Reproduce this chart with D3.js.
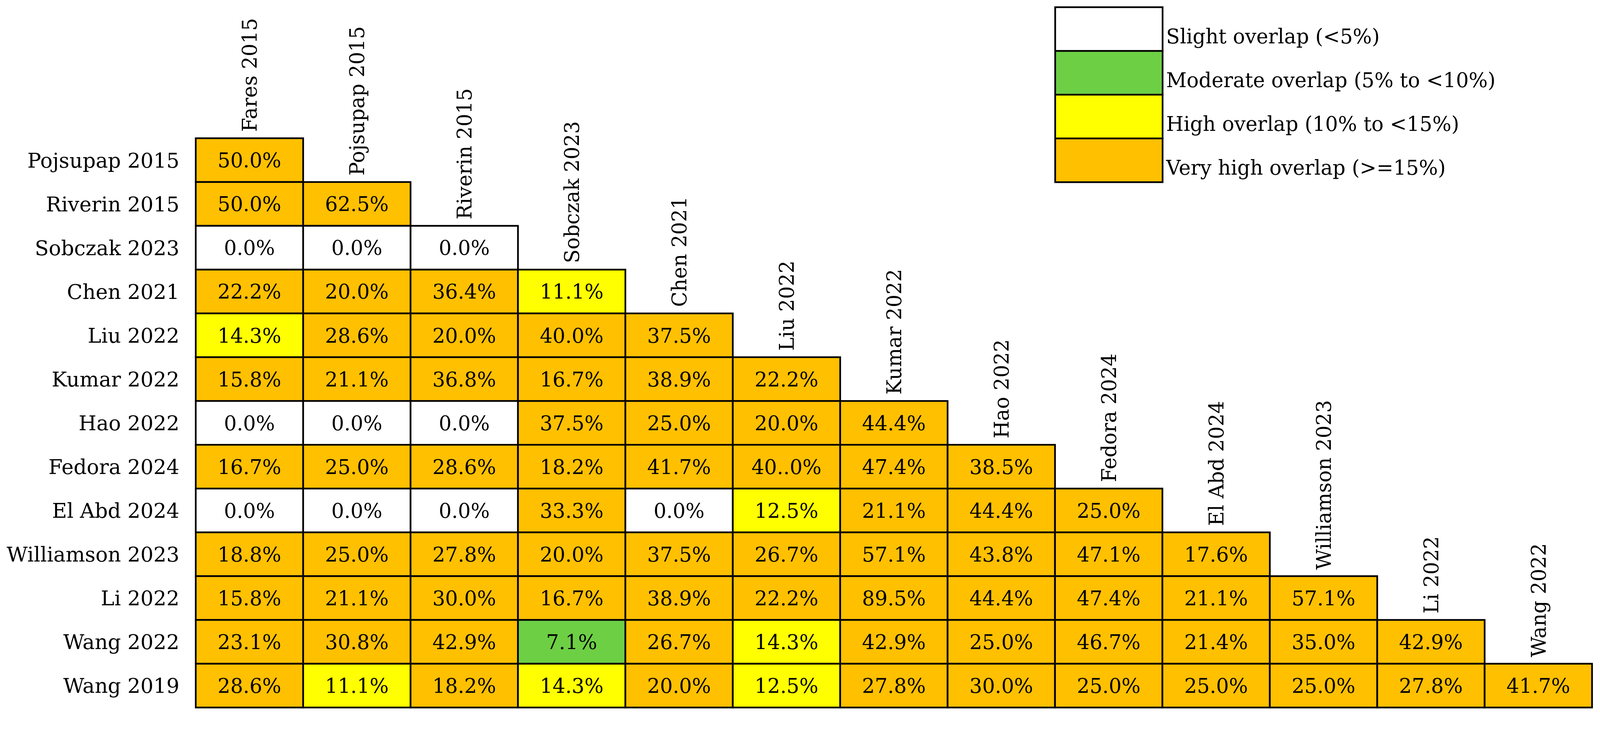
<!DOCTYPE html>
<html>
<head>
<meta charset="utf-8">
<script src="https://cdn.jsdelivr.net/npm/d3@7"></script>
<style>
  html, body { margin: 0; padding: 0; background: #fff; overflow: hidden; }
  #chart { display: block; width: 100vw; height: 100vh; }
  svg text { font-family: "DejaVu Serif", "Liberation Serif", serif; fill: #000; }
</style>
</head>
<body>
<svg id="chart" viewBox="0 0 4226 1886" preserveAspectRatio="xMinYMin meet"></svg>
<script>
// studies along the top (columns) and down the side (rows)
let colStudies = ['Fares 2015', 'Pojsupap 2015', 'Riverin 2015', 'Sobczak 2023', 'Chen 2021', 'Liu 2022',
  'Kumar 2022', 'Hao 2022', 'Fedora 2024', 'El Abd 2024', 'Williamson 2023', 'Li 2022', 'Wang 2022'];
let rowStudies = ['Pojsupap 2015', 'Riverin 2015', 'Sobczak 2023', 'Chen 2021', 'Liu 2022', 'Kumar 2022',
  'Hao 2022', 'Fedora 2024', 'El Abd 2024', 'Williamson 2023', 'Li 2022', 'Wang 2022', 'Wang 2019'];

// overlap (%) per row, lower triangle
let pojsupap2015 = [50.0];
let riverin2015 = [50.0, 62.5];
let sobczak2023 = [0.0, 0.0, 0.0];
let chen2021 = [22.2, 20.0, 36.4, 11.1];
let liu2022 = [14.3, 28.6, 20.0, 40.0, 37.5];
let kumar2022 = [15.8, 21.1, 36.8, 16.7, 38.9, 22.2];
let hao2022 = [0.0, 0.0, 0.0, 37.5, 25.0, 20.0, 44.4];
let fedora2024 = [16.7, 25.0, 28.6, 18.2, 41.7, 40.0, 47.4, 38.5];
let elAbd2024 = [0.0, 0.0, 0.0, 33.3, 0.0, 12.5, 21.1, 44.4, 25.0];
let williamson2023 = [18.8, 25.0, 27.8, 20.0, 37.5, 26.7, 57.1, 43.8, 47.1, 17.6];
let li2022 = [15.8, 21.1, 30.0, 16.7, 38.9, 22.2, 89.5, 44.4, 47.4, 21.1, 57.1];
let wang2022 = [23.1, 30.8, 42.9, 7.1, 26.7, 14.3, 42.9, 25.0, 46.7, 21.4, 35.0, 42.9];
let wang2019 = [28.6, 11.1, 18.2, 14.3, 20.0, 12.5, 27.8, 30.0, 25.0, 25.0, 25.0, 27.8, 41.7];

let rowValues = [pojsupap2015, riverin2015, sobczak2023, chen2021, liu2022, kumar2022, hao2022,
  fedora2024, elAbd2024, williamson2023, li2022, wang2022, wang2019];

// one label is printed with a typo in the original table
let printedAs = { 'Fedora 2024|Liu 2022': '40..0%' };

let legendLabels = ['Slight overlap (<5%)', 'Moderate overlap (5% to <10%)',
  'High overlap (10% to <15%)', 'Very high overlap (>=15%)'];
let legendColors = ['#ffffff', '#6dcf44', '#ffff00', '#ffc000'];
let thresholds = [5, 10, 15];

let cells = [];
rowValues.forEach((vals, i) => {
  vals.forEach((v, j) => {
    cells.push({ row: rowStudies[i], col: colStudies[j], value: v });
  });
});

let svg = d3.select('#chart');

let xScale = d3.scaleBand().domain(colStudies).range([517, 4205]);
let yScale = d3.scaleBand().domain(rowStudies).range([365, 1868]);
let color = d3.scaleThreshold().domain(thresholds).range(legendColors);

let g = svg.append('g');

g.selectAll('.cell')
  .data(cells)
  .enter().append('rect')
  .attr('class', 'cell')
  .attr('x', d => xScale(d.col))
  .attr('y', d => yScale(d.row))
  .attr('width', xScale.bandwidth())
  .attr('height', yScale.bandwidth())
  .attr('fill', d => color(d.value))
  .attr('stroke', '#000')
  .attr('stroke-width', 4.5);

g.selectAll('.cell-label')
  .data(cells)
  .enter().append('text')
  .attr('class', 'cell-label')
  .attr('x', d => xScale(d.col) + xScale.bandwidth() / 2)
  .attr('y', d => yScale(d.row) + yScale.bandwidth() / 2)
  .attr('dy', '0.36em')
  .attr('text-anchor', 'middle')
  .style('font-size', '53px')
  .text(d => printedAs[d.row + '|' + d.col] || d.value.toFixed(1) + '%');

// row names on the left
g.selectAll('.row-label')
  .data(rowStudies)
  .enter().append('text')
  .attr('class', 'row-label')
  .attr('x', 474)
  .attr('y', d => yScale(d) + yScale.bandwidth() / 2)
  .attr('dy', '0.36em')
  .attr('text-anchor', 'end')
  .style('font-size', '54px')
  .text(d => d);

// column names, rotated, sitting on top of each column's first cell
g.selectAll('.col-label')
  .data(colStudies)
  .enter().append('text')
  .attr('class', 'col-label')
  .attr('transform', (d, j) => 'translate(' + (xScale(d) + xScale.bandwidth() / 2) + ',' + (yScale(rowStudies[j]) - 17) + ') rotate(-90)')
  .attr('dy', '0.36em')
  .attr('text-anchor', 'start')
  .style('font-size', '53px')
  .text(d => d);

// legend
let legendY = d3.scaleBand().domain(legendLabels).range([19, 481]);
let legend = svg.append('g');

legend.selectAll('rect')
  .data(legendLabels)
  .enter().append('rect')
  .attr('x', 2787)
  .attr('y', d => legendY(d))
  .attr('width', xScale.bandwidth())
  .attr('height', legendY.bandwidth())
  .attr('fill', (d, i) => legendColors[i])
  .attr('stroke', '#000')
  .attr('stroke-width', 4.5);

legend.selectAll('text')
  .data(legendLabels)
  .enter().append('text')
  .attr('x', 3080)
  .attr('y', d => legendY(d) + legendY.bandwidth() - 20)
  .style('font-size', '53px')
  .text(d => d);
</script>
</body>
</html>
